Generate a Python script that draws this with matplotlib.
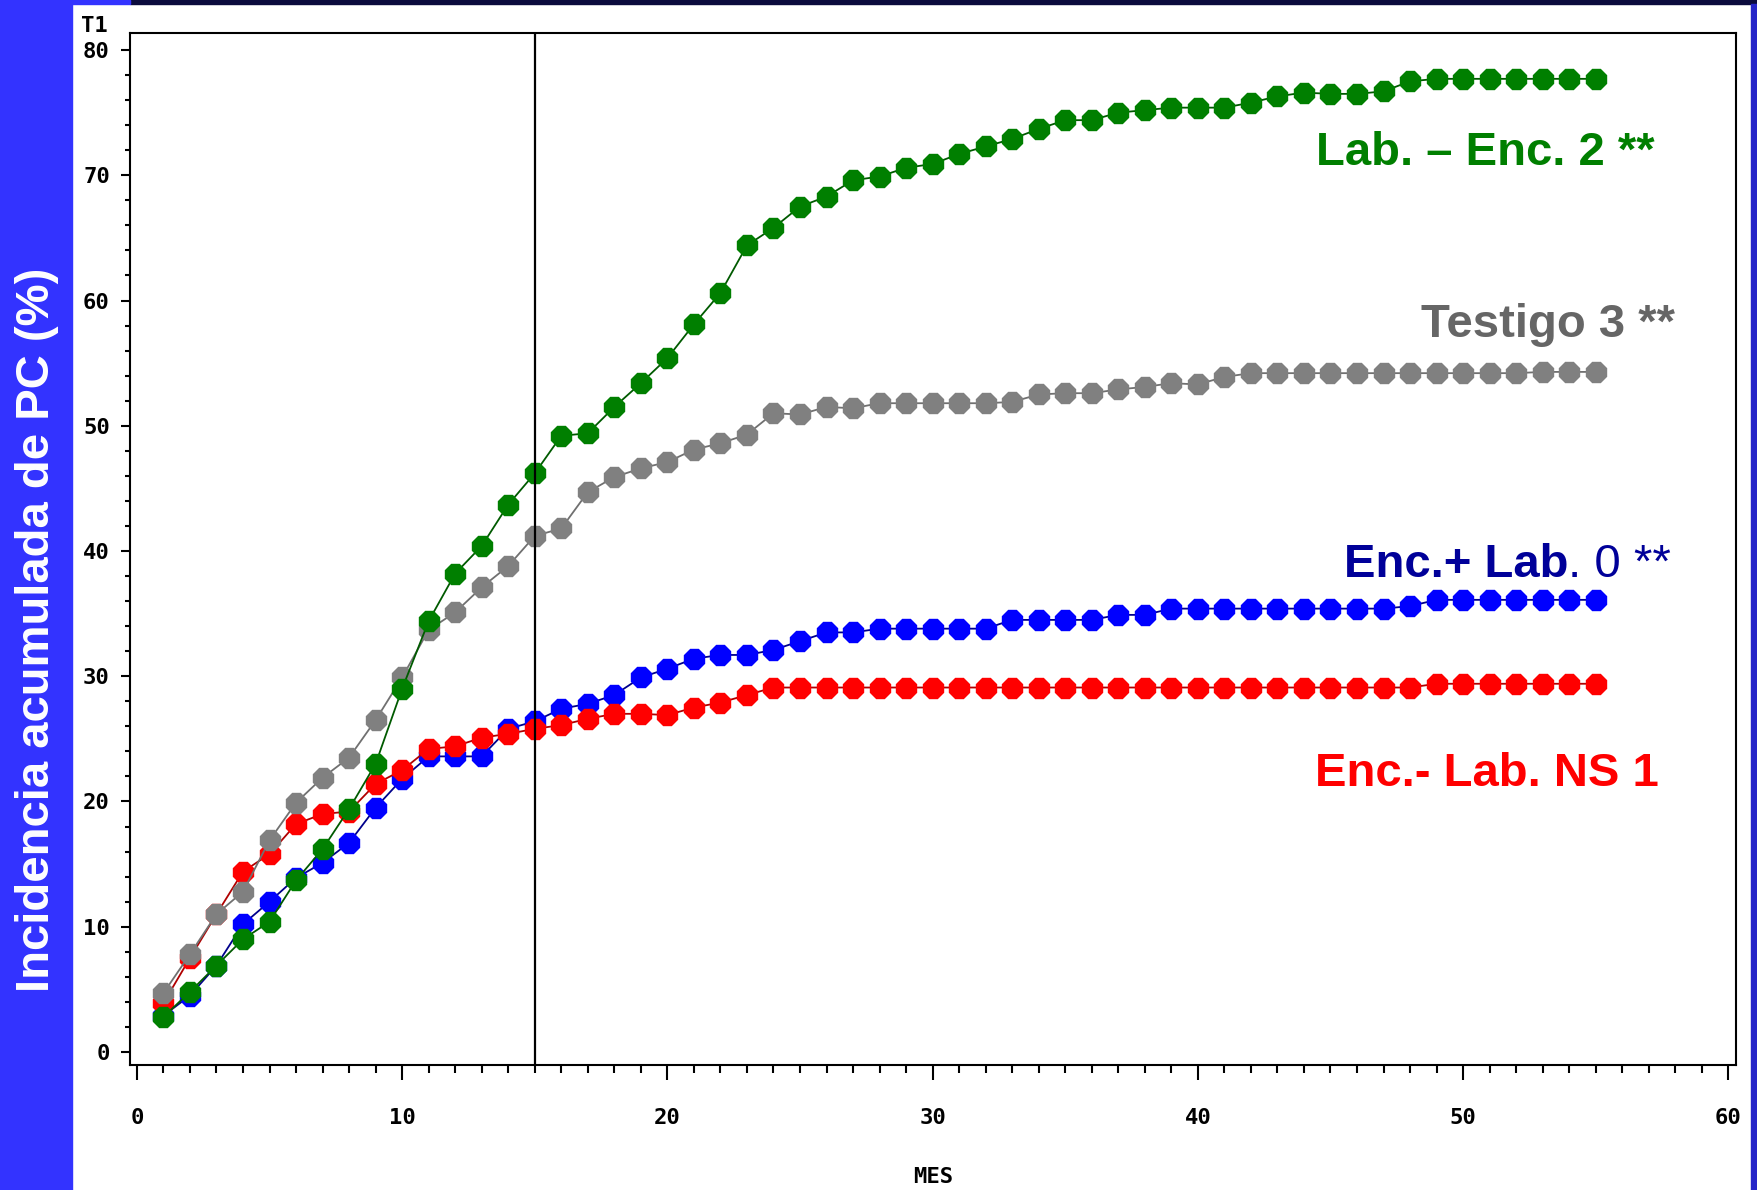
import numpy as np
import matplotlib
matplotlib.use("Agg")
import matplotlib.pyplot as plt
from matplotlib.patches import Rectangle
from matplotlib.ticker import MultipleLocator

# meses 1..55
mes = list(range(1, 56))

lab_enc = [2.8, 4.8, 6.9, 9.0, 10.4, 13.7, 16.2, 19.4, 23.0, 29.0,
           34.4, 38.2, 40.4, 43.7, 46.2, 49.2, 49.4, 51.5, 53.4, 55.4,
           58.1, 60.6, 64.4, 65.8, 67.5, 68.3, 69.6, 69.9, 70.6, 70.9,
           71.7, 72.3, 72.9, 73.7, 74.4, 74.4, 75.0, 75.2, 75.4, 75.4,
           75.4, 75.8, 76.3, 76.6, 76.5, 76.5, 76.7, 77.5, 77.7, 77.7,
           77.7, 77.7, 77.7, 77.7, 77.7]

testigo = [4.7, 7.8, 11.0, 12.8, 16.9, 19.9, 21.9, 23.5, 26.5, 29.9,
           33.7, 35.1, 37.1, 38.8, 41.2, 41.8, 44.7, 45.9, 46.6, 47.1,
           48.1, 48.6, 49.3, 51.0, 50.9, 51.5, 51.4, 51.8, 51.8, 51.8,
           51.8, 51.8, 51.9, 52.5, 52.6, 52.6, 52.9, 53.1, 53.4, 53.3,
           53.9, 54.2, 54.2, 54.2, 54.2, 54.2, 54.2, 54.2, 54.2, 54.2,
           54.2, 54.2, 54.3, 54.3, 54.3]

enc_mas_lab = [2.9, 4.5, 6.9, 10.2, 12.0, 13.9, 15.1, 16.7, 19.5, 21.8,
               23.6, 23.6, 23.6, 25.8, 26.4, 27.4, 27.8, 28.5, 29.9, 30.6,
               31.4, 31.7, 31.7, 32.1, 32.8, 33.5, 33.5, 33.8, 33.8, 33.8,
               33.8, 33.8, 34.5, 34.5, 34.5, 34.5, 34.9, 34.9, 35.4, 35.4,
               35.4, 35.4, 35.4, 35.4, 35.4, 35.4, 35.4, 35.6, 36.1, 36.1,
               36.1, 36.1, 36.1, 36.1, 36.1]

enc_menos_lab = [3.9, 7.5, 11.0, 14.4, 15.8, 18.2, 19.0, 19.2, 21.4, 22.5,
                 24.2, 24.4, 25.1, 25.4, 25.8, 26.1, 26.6, 27.0, 27.0, 26.9,
                 27.5, 27.9, 28.5, 29.1, 29.1, 29.1, 29.1, 29.1, 29.1, 29.1,
                 29.1, 29.1, 29.1, 29.1, 29.1, 29.1, 29.1, 29.1, 29.1, 29.1,
                 29.1, 29.1, 29.1, 29.1, 29.1, 29.1, 29.1, 29.1, 29.4, 29.4,
                 29.4, 29.4, 29.4, 29.4, 29.4]

corte = 15  # linea vertical

fig = plt.figure(figsize=(17.58, 11.90), dpi=100)
fig.patch.set_facecolor("white")

# bandas de fondo de la diapositiva
fig.patches.append(Rectangle((0, 0), 72 / 1758, 1, transform=fig.transFigure,
                             color="#3333ff", zorder=0))
fig.patches.append(Rectangle((130 / 1758, 1 - 4 / 1190), 1, 4 / 1190,
                             transform=fig.transFigure, color="#0b0b3d", zorder=0))
fig.patches.append(Rectangle((0, 1 - 4 / 1190), 130 / 1758, 4 / 1190,
                             transform=fig.transFigure, color="#3333ff", zorder=0))
fig.patches.append(Rectangle((1751 / 1758, 0), 7 / 1758, 1 - 4 / 1190,
                             transform=fig.transFigure, color="#2626c8", zorder=0))

ax = fig.add_axes([130 / 1758, 1 - 1065 / 1190, 1606 / 1758, 1032 / 1190])

series = [
    (enc_mas_lab, "#0000ff", "#00008b"),
    (enc_menos_lab, "#ff0000", "#b00000"),
    (testigo, "#808080", "#707070"),
    (lab_enc, "#007f00", "#005a00"),
]
for vals, mcol, lcol in series:
    ax.plot(mes, vals, color=lcol, lw=1.3, marker="8", markersize=15,
            markerfacecolor=mcol, markeredgecolor=mcol)

ax.axvline(corte, color="black", lw=1.6)

ax.set_xlim(-0.26, 60.29)
ax.set_ylim(-1.04, 81.36)

ax.xaxis.set_major_locator(MultipleLocator(10))
ax.xaxis.set_minor_locator(MultipleLocator(1))
ax.yaxis.set_major_locator(MultipleLocator(10))
ax.yaxis.set_minor_locator(MultipleLocator(2))

tick_font = dict(family="DejaVu Sans Mono", weight="bold", size=16)
ax.tick_params(axis="x", which="major", direction="out", length=11, width=1.5, pad=20)
ax.tick_params(axis="x", which="minor", direction="out", length=5.5, width=1.5)
ax.tick_params(axis="y", which="major", direction="out", length=6.5, width=1.5, pad=8)
ax.tick_params(axis="y", which="minor", direction="out", length=3.5, width=1.5)
for lab in ax.get_xticklabels() + ax.get_yticklabels():
    lab.set_fontfamily("DejaVu Sans Mono")
    lab.set_fontweight("bold")
    lab.set_fontsize(16)

for sp in ax.spines.values():
    sp.set_linewidth(1.5)

fig.text(933 / 1758, 1 - 1177 / 1190, "MES", ha="center", va="center", **tick_font)
fig.text(81 / 1758, 1 - 26 / 1190, "T1", ha="left", va="center", **tick_font)

fig.text(37 / 1758, 1 - 630 / 1190, "Incidencia acumulada de PC (%)", rotation=90,
         ha="center", va="center", color="white", fontsize=34, fontweight="bold",
         family="Liberation Sans")

lbl = dict(fontsize=34, family="Liberation Sans")
ax.text(57.24, 70.82, "Lab. \u2013 Enc. 2 **", ha="right", va="baseline",
        color="#007f00", fontweight="bold", **lbl)
ax.text(58.0, 57.09, "Testigo 3 **", ha="right", va="baseline",
        color="#666666", fontweight="bold", **lbl)
t = ax.text(45.5, 37.96, "Enc.+ Lab", ha="left", va="baseline",
            color="#000099", fontweight="bold", **lbl)
ax.annotate(". 0 **", xy=(1, 0), xycoords=t, ha="left", va="bottom",
            color="#000099", fontweight="normal", **lbl)
ax.text(57.39, 21.2, "Enc.- Lab. NS 1", ha="right", va="baseline",
        color="#ff0000", fontweight="bold", **lbl)

fig.savefig("out.png", dpi=100)
